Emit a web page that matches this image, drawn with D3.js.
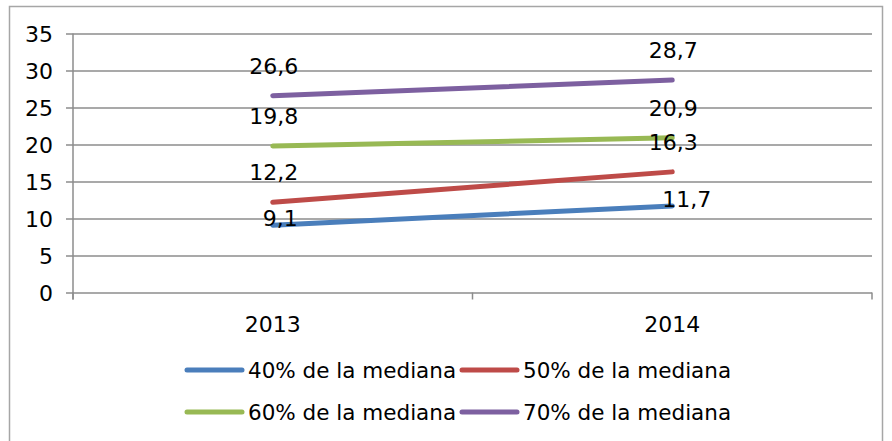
<!DOCTYPE html>
<html>
<head>
<meta charset="utf-8">
<script src="https://cdn.jsdelivr.net/npm/d3@7"></script>
<style>
    body { margin: 0; background: #fff; }
    text { font-family: "DejaVu Sans", Verdana, sans-serif; fill: #000; }
</style>
</head>
<body>
<svg id="chart"></svg>
<script>

// data
const years = ["2013", "2014"];
const seriesNames = ["40% de la mediana", "50% de la mediana", "60% de la mediana", "70% de la mediana"];
const values40 = [9.1, 11.7];
const values50 = [12.2, 16.3];
const values60 = [19.8, 20.9];
const values70 = [26.6, 28.7];
const yTicks = [0, 5, 10, 15, 20, 25, 30, 35];

const colors = ["#4a7ebb", "#be4b48", "#98b954", "#7d60a0"];

const series = [values40, values50, values60, values70].map((v, i) => ({
    name: seriesNames[i],
    color: colors[i],
    values: v
}));

const width = 892, height = 441;
const svg = d3.select("#chart")
    .attr("width", width)
    .attr("height", height);

// outer border
svg.append("rect")
    .attr("x", 9.5).attr("y", 6.5)
    .attr("width", 873).attr("height", 440)
    .attr("fill", "none")
    .attr("stroke", "#a6a6a6")
    .attr("stroke-width", 1.5);

const plot = {left: 73, right: 872, top: 33.5, bottom: 292.5};

const xScale = d3.scaleBand()
    .domain(years)
    .range([plot.left, plot.right]);

const yScale = d3.scaleLinear()
    .domain([0, 35])
    .range([plot.bottom, plot.top]);

// gridlines + y axis
const yAxis = d3.axisLeft(yScale)
    .tickValues(yTicks)
    .tickSize(-(plot.right - plot.left))
    .tickPadding(20)
    .tickFormat(d3.format("d"));

const yAxisG = svg.append("g")
    .attr("transform", `translate(${plot.left},0)`)
    .call(yAxis);
yAxisG.select(".domain").remove();
yAxisG.selectAll(".tick line")
    .attr("stroke", "#8c8c8c")
    .attr("stroke-width", 1.5)
    .attr("x1", -7);
yAxisG.selectAll(".tick text")
    .attr("font-size", 22)
    .attr("dy", "0.36em");

// vertical axis line
svg.append("line")
    .attr("x1", plot.left).attr("x2", plot.left)
    .attr("y1", plot.top).attr("y2", plot.bottom + 7)
    .attr("stroke", "#8c8c8c")
    .attr("stroke-width", 1.5);

// x axis ticks at band edges
const edges = years.map(d => xScale(d)).concat([plot.right]);
svg.append("g").selectAll("line")
    .data(edges)
    .join("line")
    .attr("x1", d => d).attr("x2", d => d)
    .attr("y1", plot.bottom).attr("y2", plot.bottom + 7)
    .attr("stroke", "#8c8c8c")
    .attr("stroke-width", 1.5);

// x labels
svg.append("g").selectAll("text")
    .data(years)
    .join("text")
    .attr("x", d => xScale(d) + xScale.bandwidth() / 2)
    .attr("y", 332)
    .attr("text-anchor", "middle")
    .attr("font-size", 22)
    .text(d => d);

const cx = d => xScale(d) + xScale.bandwidth() / 2;

const line = d3.line()
    .x((d, i) => cx(years[i]))
    .y(d => yScale(d));

// lines
svg.append("g").selectAll("path")
    .data(series)
    .join("path")
    .attr("d", d => line(d.values))
    .attr("fill", "none")
    .attr("stroke", d => d.color)
    .attr("stroke-width", 5)
    .attr("stroke-linecap", "round");

// data labels (comma decimal)
const fmt = v => d3.format(".1f")(v).replace(".", ",");
series.forEach((s, si) => {
    svg.append("g").selectAll("text")
        .data(s.values)
        .join("text")
        .attr("x", (d, i) => si === 0 ? cx(years[i]) - 10 : cx(years[i]) + 1)
        .attr("y", d => si === 0 ? yScale(d) + 1 : yScale(d) - 22)
        .attr("text-anchor", si === 0 ? "start" : "middle")
        .attr("font-size", 22)
        .text(d => fmt(d));
});

// legend
const legendPos = [
    {x: 187, y: 370}, {x: 462, y: 370},
    {x: 187, y: 412}, {x: 462, y: 412}
];
const legend = svg.append("g").selectAll("g")
    .data(series)
    .join("g")
    .attr("transform", (d, i) => `translate(${legendPos[i].x},${legendPos[i].y})`);
legend.append("line")
    .attr("x1", 0).attr("x2", 55)
    .attr("stroke", d => d.color)
    .attr("stroke-width", 5)
    .attr("stroke-linecap", "round");
legend.append("text")
    .attr("x", 61)
    .attr("dy", "0.36em")
    .attr("font-size", 21.5)
    .text(d => d.name);

</script>
</body>
</html>
